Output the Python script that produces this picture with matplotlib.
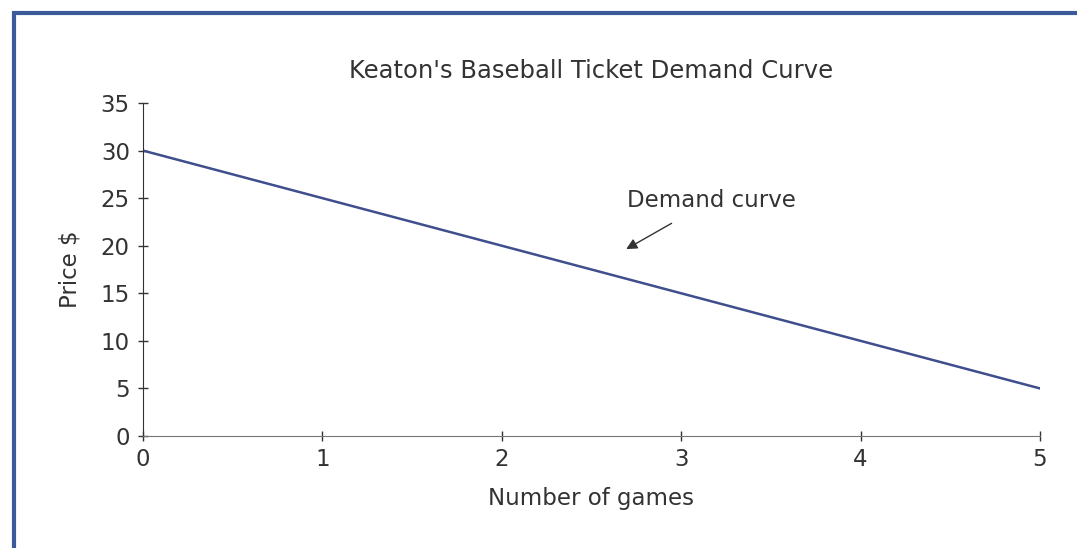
import matplotlib.pyplot as plt
from matplotlib.patches import Rectangle

# Demand schedule
games = [0, 1, 2, 3, 4, 5]
price = [30, 25, 20, 15, 10, 5]
y_ticks = [0, 5, 10, 15, 20, 25, 30, 35]

plt.rcParams['font.family'] = ['DejaVu Sans']

fig = plt.figure(figsize=(10.77, 5.48), dpi=100)
ax = fig.add_axes([0.1328, 0.2044, 0.8328, 0.6076])

ax.plot(games, price, color='#3f4e8c', lw=1.8)

ax.set_xlim(0, 5)
ax.set_ylim(0, 35)
ax.set_xticks(games)
ax.set_yticks(y_ticks)
ax.tick_params(axis='both', labelsize=16.5, colors='#333333', direction='inout', length=7, width=1)
ax.tick_params(axis='x', pad=5)
ax.tick_params(axis='y', pad=6)
for side in ['top', 'right']:
    ax.spines[side].set_visible(False)
ax.spines['left'].set_color('#333333')
ax.spines['bottom'].set_color('#777777')

ax.set_title("Keaton's Baseball Ticket Demand Curve", fontsize=17.5, color='#333333', pad=18)
ax.set_xlabel('Number of games', fontsize=16.5, color='#333333', labelpad=12)
ax.set_ylabel('Price $', fontsize=16.5, color='#333333', labelpad=14)

# label and arrow pointing to the line
ax.text(3.17, 24.8, 'Demand curve', fontsize=16.5, color='#333333', ha='center', va='center')
ax.annotate('', xy=(2.68, 19.5), xytext=(2.96, 22.5),
            arrowprops=dict(arrowstyle='-|>', color='#333333', lw=1, mutation_scale=16))

# blue frame around the figure (cut at right and bottom)
fig.patches.append(Rectangle((14 / 1077, -0.1), 1.2, 0.976 + 0.1, transform=fig.transFigure,
                             fill=False, edgecolor='#3a5a9a', lw=3))

fig.savefig('out.png', dpi=100)
